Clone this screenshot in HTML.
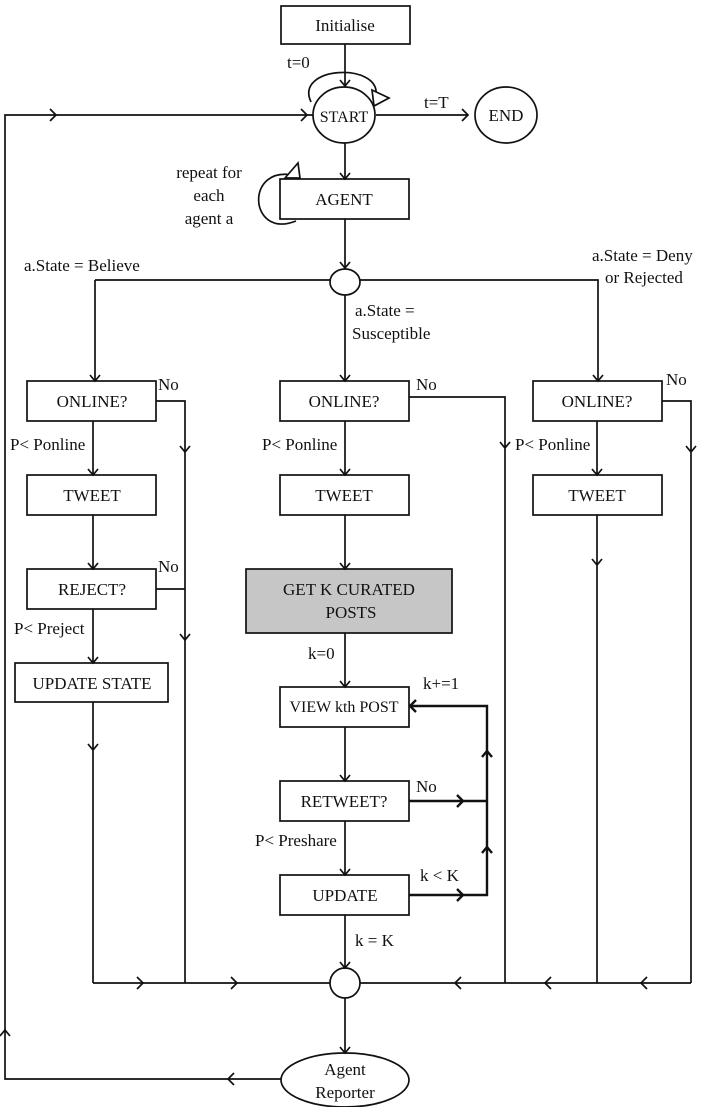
<!DOCTYPE html>
<html><head><meta charset="utf-8"><style>
html,body{margin:0;padding:0;background:#fff}
svg{display:block}
text{font-family:"Liberation Serif",serif;font-size:17px;fill:#111}
.c{text-anchor:middle}
</style></head><body>
<svg width="708" height="1107" viewBox="0 0 708 1107" xmlns="http://www.w3.org/2000/svg">
<g stroke="#111" stroke-width="1.7" fill="none">
<rect x="281" y="6" width="129" height="38"/>
<rect x="280" y="179" width="129" height="40"/>
<rect x="27" y="381" width="129" height="40"/>
<rect x="280" y="381" width="129" height="40"/>
<rect x="533" y="381" width="129" height="40"/>
<rect x="27" y="475" width="129" height="40"/>
<rect x="280" y="475" width="129" height="40"/>
<rect x="533" y="475" width="129" height="40"/>
<rect x="27" y="569" width="129" height="40"/>
<rect x="15" y="663" width="153" height="39"/>
<rect x="246" y="569" width="206" height="64" fill="#c6c6c6"/>
<rect x="280" y="687" width="129" height="40"/>
<rect x="280" y="781" width="129" height="40"/>
<rect x="280" y="875" width="129" height="40"/>
<ellipse cx="344" cy="115" rx="31" ry="28"/>
<ellipse cx="506" cy="115" rx="31" ry="28"/>
<ellipse cx="345" cy="282" rx="15" ry="13"/>
<ellipse cx="345" cy="983" rx="15" ry="15"/>
<ellipse cx="345" cy="1080" rx="64" ry="27"/>
<path d="M311,102 C294,66 380,62 376,95"/>
<path d="M372,90 L389,98 L374,106 Z" fill="#fff"/>
<path d="M297,176 C244,162 248,240 296,221"/>
<path d="M285,178 L298,163 L300,178 Z" fill="#fff"/>
<path d="M345,44 V86"/><path d="M340,80 L345,86 L350,80"/>
<path d="M376,115 H468"/><path d="M462,109 L468,115 L462,121"/>
<path d="M345,143 V179"/><path d="M340,173 L345,179 L350,173"/>
<path d="M345,219 V268"/><path d="M340,262 L345,268 L350,262"/>
<path d="M95,280 H330 M360,280 H598 V381 M95,280 V381 M345,295 V381"/>
<path d="M90,375 L95,381 L100,375 M340,375 L345,381 L350,375 M593,375 L598,381 L603,375"/>
<path d="M93,421 V475 M88,469 L93,475 L98,469"/>
<path d="M93,515 V569 M88,563 L93,569 L98,563"/>
<path d="M93,609 V663 M88,657 L93,663 L98,657"/>
<path d="M156,401 H185 V983 M156,589 H185"/>
<path d="M180,446 L185,452 L190,446 M180,634 L185,640 L190,634"/>
<path d="M93,702 V983 M88,744 L93,750 L98,744"/>
<path d="M345,421 V475 M340,469 L345,475 L350,469"/>
<path d="M345,515 V569 M340,563 L345,569 L350,563"/>
<path d="M345,633 V687 M340,681 L345,687 L350,681"/>
<path d="M345,727 V781 M340,775 L345,781 L350,775"/>
<path d="M345,821 V875 M340,869 L345,875 L350,869"/>
<path d="M345,915 V968 M340,962 L345,968 L350,962"/>
<path d="M409,397 H505 V983 M500,442 L505,448 L510,442"/>
<g stroke-width="2.4">
<path d="M409,706 H487 V895 H409 M409,801 H487"/>
<path d="M416,700 L410,706 L416,712"/>
<path d="M457,795 L463,801 L457,807 M457,889 L463,895 L457,901"/>
<path d="M482,757 L487,751 L492,757 M482,853 L487,847 L492,853"/>
</g>
<path d="M597,421 V475 M592,469 L597,475 L602,469"/>
<path d="M662,401 H691 V983 M686,446 L691,452 L696,446"/>
<path d="M597,515 V983 M592,559 L597,565 L602,559"/>
<path d="M93,983 H330 M360,983 H691"/>
<path d="M137,977 L143,983 L137,989 M231,977 L237,983 L231,989"/>
<path d="M461,977 L455,983 L461,989 M551,977 L545,983 L551,989 M647,977 L641,983 L647,989"/>
<path d="M345,998 V1053 M340,1047 L345,1053 L350,1047"/>
<path d="M281,1079 H5 V115 H313"/>
<path d="M234,1073 L228,1079 L234,1085"/>
<path d="M0,1036 L5,1030 L10,1036"/>
<path d="M50,109 L56,115 L50,121 M301,109 L307,115 L301,121"/>
</g>
<g>
<text class="c" x="345" y="31">Initialise</text>
<text x="287" y="68">t=0</text>
<text class="c" x="344" y="122" style="font-size:16px">START</text>
<text x="424" y="108">t=T</text>
<text class="c" x="506" y="121">END</text>
<text class="c" x="209" y="178">repeat for</text>
<text class="c" x="209" y="201">each</text>
<text class="c" x="209" y="224">agent a</text>
<text class="c" x="344" y="205">AGENT</text>
<text x="24" y="271">a.State = Believe</text>
<text x="592" y="261">a.State = Deny</text>
<text x="605" y="283">or Rejected</text>
<text x="355" y="316">a.State =</text>
<text x="352" y="339">Susceptible</text>
<text class="c" x="92" y="407">ONLINE?</text>
<text class="c" x="344" y="407">ONLINE?</text>
<text class="c" x="597" y="407">ONLINE?</text>
<text x="158" y="390">No</text>
<text x="416" y="390">No</text>
<text x="666" y="385">No</text>
<text x="10" y="450">P&lt; Ponline</text>
<text x="262" y="450">P&lt; Ponline</text>
<text x="515" y="450">P&lt; Ponline</text>
<text class="c" x="92" y="501">TWEET</text>
<text class="c" x="344" y="501">TWEET</text>
<text class="c" x="597" y="501">TWEET</text>
<text class="c" x="92" y="595">REJECT?</text>
<text x="158" y="572">No</text>
<text x="14" y="634">P&lt; Preject</text>
<text class="c" x="92" y="689">UPDATE STATE</text>
<text class="c" x="349" y="595">GET K CURATED</text>
<text class="c" x="351" y="618">POSTS</text>
<text x="308" y="659">k=0</text>
<text x="423" y="689">k+=1</text>
<text class="c" x="344" y="712" style="font-size:16px">VIEW kth POST</text>
<text class="c" x="344" y="807">RETWEET?</text>
<text x="416" y="792">No</text>
<text x="255" y="846">P&lt; Preshare</text>
<text x="420" y="881">k &lt; K</text>
<text class="c" x="345" y="901">UPDATE</text>
<text x="355" y="946">k = K</text>
<text class="c" x="345" y="1075">Agent</text>
<text class="c" x="345" y="1098">Reporter</text>
</g>
</svg>
</body></html>
